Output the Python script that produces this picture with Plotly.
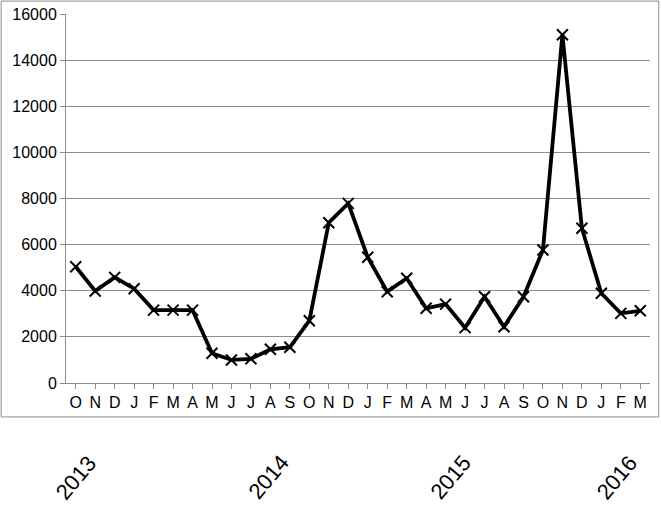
import plotly.graph_objects as go

# Oct 2013 .. Mar 2016
MONTHS = ["O", "N", "D", "J", "F", "M", "A", "M", "J", "J", "A", "S",
          "O", "N", "D", "J", "F", "M", "A", "M", "J", "J", "A", "S",
          "O", "N", "D", "J", "F", "M"]
VALUES = [5040, 3990, 4580, 4090, 3160, 3160, 3160, 1290, 1000, 1050, 1460, 1550,
          2700, 6950, 7790, 5450, 3960, 4540, 3240, 3420, 2400, 3740, 2440, 3740,
          5770, 15100, 6710, 3890, 3020, 3130]
YEARS = ["2013", "2014", "2015", "2016"]
YEAR_POS = [0.017, 0.346, 0.658, 0.943]

_C_GRID = "#8c8c8c"
_FONT = "Liberation Sans, Arial, sans-serif"

x_idx = list(range(len(MONTHS)))

fig = go.Figure(
    go.Scatter(
        x=x_idx,
        y=VALUES,
        mode="lines+markers",
        line={"color": "black", "width": 3.8},
        marker={"symbol": "x-thin-open", "size": 11, "color": "black",
                "line": {"color": "black", "width": 2}},
        showlegend=False,
    )
)

for year, pos in zip(YEARS, YEAR_POS):
    fig.add_annotation(
        text=year, x=pos, y=-0.255, xref="paper", yref="paper",
        xanchor="center", yanchor="middle",
        showarrow=False, textangle=-50,
        font={"family": _FONT, "size": 22, "color": "black"},
    )

# outer chart border
fig.add_shape(
    type="rect", xref="paper", yref="paper",
    x0=-0.111, x1=1.015, y0=-0.092, y1=1.035,
    line={"color": "#8c8c8c", "width": 1}, fillcolor="rgba(0,0,0,0)", layer="below",
)

fig.update_layout(
    width=661,
    height=510,
    paper_bgcolor="white",
    plot_bgcolor="white",
    font={"family": _FONT, "size": 16, "color": "black"},
    margin={"l": 66, "r": 11, "t": 14, "b": 127, "autoexpand": False},
)
fig.update_xaxes(
    tickmode="array", tickvals=x_idx, ticktext=MONTHS,
    range=[-0.5, len(MONTHS) - 0.5],
    tickson="boundaries", ticks="outside", ticklen=5, tickcolor=_C_GRID,
    showline=True, linecolor=_C_GRID, linewidth=1,
    showgrid=False, zeroline=False, tickangle=0,
    tickfont={"size": 16},
)
fig.update_yaxes(
    range=[0, 16000], dtick=2000, tickformat="d",
    ticks="outside", ticklen=5, tickcolor=_C_GRID,
    showline=True, linecolor=_C_GRID, linewidth=1,
    gridcolor=_C_GRID, gridwidth=1, zeroline=False,
    tickfont={"size": 16},
)

fig.write_html(
    "out.html",
    config={"displayModeBar": False},
    post_script="document.body.style.margin = '0';",
)
